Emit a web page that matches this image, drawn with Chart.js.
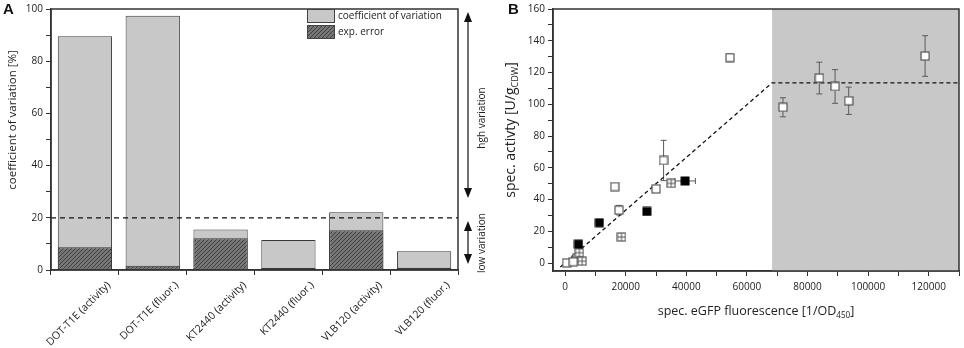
<!DOCTYPE html>
<html>
<head>
<meta charset="utf-8">
<script src="https://cdn.jsdelivr.net/npm/chart.js@4/dist/chart.umd.min.js"></script>
<style>
body { margin: 0; background: #fff; width: 964px; height: 348px; position: relative; overflow: hidden; }
#chartA { position: absolute; left: 0; top: 0; }
#chartB { position: absolute; left: 500px; top: 0; }
.panel { position: absolute; font: bold 15px "Liberation Sans", sans-serif; color: #111; }
</style>
</head>
<body>
<canvas id="chartA" width="500" height="348"></canvas>
<canvas id="chartB" width="464" height="348"></canvas>
<div class="panel" style="left:3px;top:0px">A</div>
<div class="panel" style="left:508px;top:0px">B</div>
<script>
// panel A
const strains = ['DOT-T1E (activity)', 'DOT-T1E (fluor.)', 'KT2440 (activity)', 'KT2440 (fluor.)', 'VLB120 (activity)', 'VLB120 (fluor.)'];
const cvValues = [89.6, 97.4, 15.5, 11.5, 22.1, 7.2];
const expError = [8.7, 1.6, 12.2, 0.8, 15.2, 0.9];
const variationLimit = 20;

// panel B
const openX = [500, 2700, 16400, 17800, 30000, 32500, 54400, 71900, 83900, 89100, 93600, 118800];
const openY = [0.1, 0.8, 48.1, 33.3, 46.7, 64.6, 129.4, 98.1, 116.5, 111.2, 102.2, 130.4];
const openErr = [0, 0, 0, 3, 1.5, 12.7, 2.5, 6, 10, 10.6, 8.6, 12.8];
const filledX = [4400, 11300, 27000, 39600];
const filledY = [11.9, 25.4, 32.5, 51.7];
const filledXErr = [0, 0, 0, 3400];
const crossX = [3600, 4000, 4700, 5600, 18600, 35000];
const crossY = [1.9, 3.5, 6.5, 1.2, 16.4, 50.2];
const fitX = [-1600, 68300, 130000];
const fitY = [-2.5, 113.5, 113.5];
const saturationStart = 68300;

// ticks
const cvTicks = [0, 10, 20, 30, 40, 50, 60, 70, 80, 90, 100];
const fluorTicks = [0, 10000, 20000, 30000, 40000, 50000, 60000, 70000, 80000, 90000, 100000, 110000, 120000, 130000];
const activityTicks = [0, 10, 20, 30, 40, 50, 60, 70, 80, 90, 100, 110, 120, 130, 140, 150, 160];

const FONT = 'Open Sans';
const INK = '#222';
const AXIS = '#333';

function hatchPattern() {
	const c = document.createElement('canvas');
	c.width = 4; c.height = 4;
	const g = c.getContext('2d');
	g.fillStyle = '#767676';
	g.fillRect(0, 0, 4, 4);
	g.strokeStyle = '#404040';
	g.lineWidth = 1;
	g.beginPath();
	g.moveTo(-1, 1); g.lineTo(1, -1);
	g.moveTo(0, 4); g.lineTo(4, 0);
	g.moveTo(3, 5); g.lineTo(5, 3);
	g.stroke();
	return g.createPattern(c, 'repeat');
}
const hatch = hatchPattern();

function marker(kind) {
	const s = 10;
	const c = document.createElement('canvas');
	c.width = s; c.height = s;
	const g = c.getContext('2d');
	if (kind === 'filled') {
		g.fillStyle = '#000';
		g.fillRect(0.5, 0.5, s - 1, s - 1);
		return c;
	}
	g.fillStyle = '#fff';
	g.fillRect(1, 1, s - 2, s - 2);
	g.strokeStyle = '#555';
	g.lineWidth = 1.2;
	g.strokeRect(1, 1, s - 2, s - 2);
	if (kind === 'cross') {
		g.lineWidth = 1;
		g.beginPath();
		g.moveTo(1, s / 2); g.lineTo(s - 1, s / 2);
		g.moveTo(s / 2, 1); g.lineTo(s / 2, s - 1);
		g.stroke();
	}
	return c;
}

function pts(xs, ys) {
	return xs.map((x, i) => ({x: x, y: ys[i]}));
}

function useTicks(values) {
	return s => { s.ticks = values.map(v => ({value: v})); };
}

function arrowHead(ctx, x, y, dir) {
	ctx.beginPath();
	ctx.moveTo(x, y);
	ctx.lineTo(x - 4, y + dir * 10);
	ctx.lineTo(x + 4, y + dir * 10);
	ctx.closePath();
	ctx.fill();
}

function vArrow(ctx, x, y1, y2) {
	ctx.strokeStyle = '#111';
	ctx.fillStyle = '#111';
	ctx.lineWidth = 1.2;
	ctx.beginPath();
	ctx.moveTo(x, y1 + 5);
	ctx.lineTo(x, y2 - 5);
	ctx.stroke();
	arrowHead(ctx, x, y1, 1);
	arrowHead(ctx, x, y2, -1);
}

function vText(ctx, text, x, y, size) {
	ctx.save();
	ctx.translate(x, y);
	ctx.rotate(-Math.PI / 2);
	ctx.font = size + 'px "' + FONT + '"';
	ctx.fillStyle = INK;
	ctx.textAlign = 'center';
	ctx.textBaseline = 'middle';
	ctx.fillText(text, 0, 0);
	ctx.restore();
}

// text with one subscript part: [before, sub, after]
function subText(ctx, parts, x, y, size, rotate) {
	ctx.save();
	ctx.translate(x, y);
	if (rotate) ctx.rotate(-Math.PI / 2);
	const big = size + 'px "' + FONT + '"';
	const small = (size * 0.65) + 'px "' + FONT + '"';
	ctx.font = big;
	const w0 = ctx.measureText(parts[0]).width;
	const w2 = ctx.measureText(parts[2]).width;
	ctx.font = small;
	const w1 = ctx.measureText(parts[1]).width;
	let cx = -(w0 + w1 + w2) / 2;
	ctx.fillStyle = INK;
	ctx.textBaseline = 'middle';
	ctx.textAlign = 'left';
	ctx.font = big;
	ctx.fillText(parts[0], cx, 0);
	cx += w0;
	ctx.font = small;
	ctx.fillText(parts[1], cx, size * 0.35);
	cx += w1;
	ctx.font = big;
	ctx.fillText(parts[2], cx, 0);
	ctx.restore();
}

const panelADecor = {
	id: 'panelADecor',
	afterDatasetsDraw(chart) {
		const ctx = chart.ctx;
		const a = chart.chartArea;
		const y20 = chart.scales.y.getPixelForValue(variationLimit);
		ctx.save();
		// threshold
		ctx.strokeStyle = '#111';
		ctx.lineWidth = 1.3;
		ctx.setLineDash([5, 4]);
		ctx.beginPath();
		ctx.moveTo(a.left, y20);
		ctx.lineTo(a.right, y20);
		ctx.stroke();
		ctx.setLineDash([]);
		// frame
		ctx.strokeStyle = AXIS;
		ctx.lineWidth = 1.5;
		ctx.strokeRect(a.left, a.top, a.right - a.left, a.bottom - a.top);
		// legend
		const items = [['coefficient of variation', '#c8c8c8'], ['exp. error', hatch]];
		items.forEach((it, i) => {
			const top = 9 + i * 16;
			ctx.fillStyle = it[1];
			ctx.fillRect(307, top, 28, 14);
			ctx.strokeStyle = '#444';
			ctx.lineWidth = 1;
			ctx.strokeRect(307.5, top + 0.5, 27, 13);
			ctx.fillStyle = INK;
			ctx.font = '10px "' + FONT + '"';
			ctx.textBaseline = 'middle';
			ctx.textAlign = 'left';
			ctx.fillText(it[0], 338, top + 7.5);
		});
		// variation arrows
		vArrow(ctx, 468, 12, 198);
		vArrow(ctx, 468, 221, 264);
		vText(ctx, 'hgh variation', 482, 118, 10);
		vText(ctx, 'low variation', 482, 243, 10);
		// axis title
		vText(ctx, 'coefficient of variation [%]', 13, 120, 11.5);
		ctx.restore();
	}
};

new Chart(document.getElementById('chartA'), {
	type: 'bar',
	data: {
		labels: strains,
		datasets: [{
			label: 'coefficient of variation',
			data: cvValues,
			backgroundColor: '#c8c8c8',
			borderColor: '#3a3a3a',
			borderWidth: 1,
			borderSkipped: false,
			order: 2
		}, {
			label: 'exp. error',
			data: expError,
			backgroundColor: hatch,
			borderColor: '#3a3a3a',
			borderWidth: 1,
			borderSkipped: false,
			order: 1
		}]
	},
	options: {
		responsive: false,
		animation: false,
		layout: {padding: {top: 7, right: 42, left: 0, bottom: 0}},
		datasets: {bar: {grouped: false, categoryPercentage: 1, barPercentage: 0.8}},
		plugins: {legend: {display: false}, tooltip: {enabled: false}},
		scales: {
			x: {
				afterFit: s => { s.height = 78; },
				ticks: {minRotation: 45, maxRotation: 45, labelOffset: 24, padding: 4, color: INK, font: {family: FONT, size: 10.5}},
				grid: {drawOnChartArea: false, tickLength: 5, color: AXIS, offset: true},
				border: {color: AXIS, width: 1.5}
			},
			y: {
				min: 0,
				max: 100,
				afterFit: s => { s.width = 51; },
				afterBuildTicks: useTicks(cvTicks),
				ticks: {autoSkip: false, callback: v => v % 20 === 0 ? String(v) : '', color: INK, padding: 3, font: {family: FONT, size: 10}},
				grid: {drawOnChartArea: false, tickLength: 5, color: AXIS},
				border: {color: AXIS, width: 1.5}
			}
		}
	},
	plugins: [panelADecor]
});

const panelBDecor = {
	id: 'panelBDecor',
	beforeDatasetsDraw(chart) {
		const ctx = chart.ctx;
		const a = chart.chartArea;
		const xs = chart.scales.x, ys = chart.scales.y;
		ctx.save();
		ctx.fillStyle = '#c8c8c8';
		const x0 = xs.getPixelForValue(saturationStart);
		ctx.fillRect(x0, a.top, a.right - x0, a.bottom - a.top);
		// error bars
		ctx.strokeStyle = '#5a5a5a';
		ctx.lineWidth = 1;
		openErr.forEach((e, i) => {
			if (!e) return;
			const px = xs.getPixelForValue(openX[i]);
			const t = ys.getPixelForValue(openY[i] + e);
			const b = ys.getPixelForValue(openY[i] - e);
			ctx.beginPath();
			ctx.moveTo(px, t); ctx.lineTo(px, b);
			ctx.moveTo(px - 3, t); ctx.lineTo(px + 3, t);
			ctx.moveTo(px - 3, b); ctx.lineTo(px + 3, b);
			ctx.stroke();
		});
		filledXErr.forEach((e, i) => {
			if (!e) return;
			const py = ys.getPixelForValue(filledY[i]);
			const l = xs.getPixelForValue(filledX[i] - e);
			const r = xs.getPixelForValue(filledX[i] + e);
			ctx.beginPath();
			ctx.moveTo(l, py); ctx.lineTo(r, py);
			ctx.moveTo(l, py - 3); ctx.lineTo(l, py + 3);
			ctx.moveTo(r, py - 3); ctx.lineTo(r, py + 3);
			ctx.stroke();
		});
		ctx.restore();
	},
	afterDraw(chart) {
		const ctx = chart.ctx;
		const a = chart.chartArea;
		ctx.save();
		ctx.strokeStyle = AXIS;
		ctx.lineWidth = 1.5;
		ctx.strokeRect(a.left, a.top, a.right - a.left, a.bottom - a.top);
		subText(ctx, ['spec. activty [U/g', 'CDW', ']'], 11, 130, 14, true);
		subText(ctx, ['spec. eGFP fluorescence [1/OD', '450', ']'], 256, 311, 12.5, false);
		ctx.restore();
	}
};

new Chart(document.getElementById('chartB'), {
	type: 'scatter',
	data: {
		datasets: [{
			type: 'line',
			data: pts(fitX, fitY),
			borderColor: '#111',
			borderWidth: 1.3,
			borderDash: [4, 3],
			pointRadius: 0,
			fill: false,
			order: 5
		}, {
			data: pts(crossX, crossY),
			pointStyle: marker('cross'),
			order: 3
		}, {
			data: pts(openX, openY),
			pointStyle: marker('open'),
			order: 2
		}, {
			data: pts(filledX, filledY),
			pointStyle: marker('filled'),
			order: 1
		}]
	},
	options: {
		responsive: false,
		animation: false,
		layout: {padding: {top: 7, right: 3, left: 0, bottom: 0}},
		plugins: {legend: {display: false}, tooltip: {enabled: false}},
		scales: {
			x: {
				type: 'linear',
				min: -4000,
				max: 130000,
				afterFit: s => { s.height = 77; },
				afterBuildTicks: useTicks(fluorTicks),
				ticks: {autoSkip: false, maxRotation: 0, callback: v => v % 20000 === 0 ? String(v) : '', color: INK, padding: 5, font: {family: FONT, size: 10}},
				grid: {drawOnChartArea: false, tickLength: 5, color: AXIS},
				border: {color: AXIS, width: 1.5}
			},
			y: {
				min: -5,
				max: 160,
				afterFit: s => { s.width = 53; },
				afterBuildTicks: useTicks(activityTicks),
				ticks: {autoSkip: false, callback: v => v % 20 === 0 ? String(v) : '', color: INK, padding: 3, font: {family: FONT, size: 10}},
				grid: {drawOnChartArea: false, tickLength: 5, color: AXIS},
				border: {color: AXIS, width: 1.5}
			}
		}
	},
	plugins: [panelBDecor]
});
</script>
</body>
</html>
